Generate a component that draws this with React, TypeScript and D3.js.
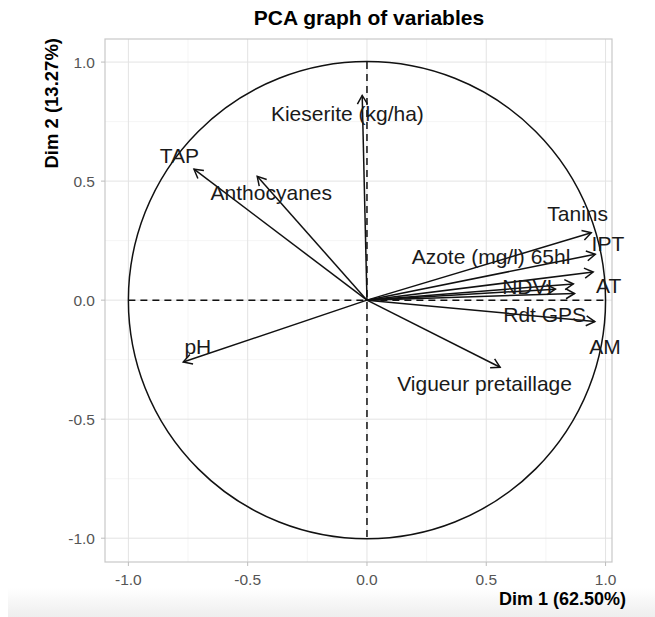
import React from 'react'
import * as d3 from 'd3'

// variable coordinates on Dim 1 / Dim 2
const varNames = ['Kieserite (kg/ha)', 'TAP', 'Anthocyanes', 'Tanins', 'IPT', 'AT', 'Azote (mg/l) 65hl', 'NDVI', 'Rdt GPS', 'AM', 'pH', 'Vigueur pretaillage']
const dim1 = [-0.02, -0.725, -0.46, 0.94, 0.957, 0.948, 0.865, 0.79, 0.87, 0.955, -0.77, 0.558]
const dim2 = [0.86, 0.55, 0.52, 0.283, 0.193, 0.118, 0.068, 0.046, 0.028, -0.09, -0.26, -0.282]

// where each label sits (data units, text centre)
const labelX = [-0.082, -0.786, -0.401, 0.883, 1.01, 1.013, 0.52, 0.672, 0.745, 0.998, -0.709, 0.493]
const labelY = [0.785, 0.605, 0.451, 0.364, 0.238, 0.059, 0.182, 0.056, -0.063, -0.197, -0.197, -0.35]

const ticks = [-1, -0.5, 0, 0.5, 1]
const minorTicks = [-0.75, -0.25, 0.25, 0.75]

const W = 655, H = 617
const FONT = '"Liberation Sans", Arial, Helvetica, sans-serif'

export default function App(){
  const x = d3.scaleLinear().domain([-1.098, 1.027]).range([105, 612])
  const y = d3.scaleLinear().domain([-1.1, 1.097]).range([562, 39])
  const [x0, x1] = x.range(), [y0, y1] = y.range()
  const fmt = (v: number) => d3.format('.1f')(v).replace('\u2212', '-')
  const r = x(1) - x(0)

  const arrowHead = (tx: number, ty: number) => {
    const px = x(tx), py = y(ty), ox = x(0), oy = y(0)
    const ang = Math.atan2(py - oy, px - ox)
    const len = 10, a = Math.PI / 6
    const p1 = [px - len * Math.cos(ang - a), py - len * Math.sin(ang - a)]
    const p2 = [px - len * Math.cos(ang + a), py - len * Math.sin(ang + a)]
    return `M${p1[0]},${p1[1]}L${px},${py}L${p2[0]},${p2[1]}`
  }

  return (
    <svg width={W} height={H} style={{position:'fixed', left:0, top:0, background:'#fff'}} fontFamily={FONT}>
      <defs>
        <linearGradient id="fade" x1="0" y1="0" x2="0" y2="1">
          <stop offset="0" stopColor="#ffffff" />
          <stop offset="1" stopColor="#eeeeee" />
        </linearGradient>
      </defs>
      <rect x={8} y={588} width={W - 8} height={H - 588} fill="url(#fade)" />

      {/* grid */}
      {minorTicks.map(t => <line key={'mx'+t} x1={x(t)} x2={x(t)} y1={y1} y2={y0} stroke="#efefef" strokeWidth={0.6} />)}
      {minorTicks.map(t => <line key={'my'+t} x1={x0} x2={x1} y1={y(t)} y2={y(t)} stroke="#efefef" strokeWidth={0.6} />)}
      {ticks.map(t => <line key={'gx'+t} x1={x(t)} x2={x(t)} y1={y1} y2={y0} stroke="#e3e3e3" strokeWidth={1} />)}
      {ticks.map(t => <line key={'gy'+t} x1={x0} x2={x1} y1={y(t)} y2={y(t)} stroke="#e3e3e3" strokeWidth={1} />)}
      <rect x={x0} y={y1} width={x1 - x0} height={y0 - y1} fill="none" stroke="#c8c8c8" strokeWidth={1.2} />

      {/* ticks and tick labels */}
      {ticks.map(t => (
        <g key={'tx'+t}>
          <line x1={x(t)} x2={x(t)} y1={y0} y2={y0 + 4} stroke="#bdbdbd" />
          <text x={x(t)} y={y0 + 23} textAnchor="middle" fontSize={15.5} fill="#555">{fmt(t)}</text>
        </g>
      ))}
      {ticks.map(t => (
        <g key={'ty'+t}>
          <line x1={x0 - 4} x2={x0} y1={y(t)} y2={y(t)} stroke="#bdbdbd" />
          <text x={x0 - 10} y={y(t)} dy="0.35em" textAnchor="end" fontSize={15.5} fill="#555">{fmt(t)}</text>
        </g>
      ))}

      {/* unit circle and axes */}
      <circle cx={x(0)} cy={y(0)} r={r} fill="none" stroke="#111" strokeWidth={1.5} />
      <line x1={x(-1)} x2={x(1)} y1={y(0)} y2={y(0)} stroke="#111" strokeWidth={1.5} strokeDasharray="7,5" />
      <line x1={x(0)} x2={x(0)} y1={y(1)} y2={y(-1)} stroke="#111" strokeWidth={1.5} strokeDasharray="7,5" />

      {/* arrows */}
      {varNames.map((n, i) => (
        <g key={n} stroke="#111" strokeWidth={1.5} fill="none">
          <line x1={x(0)} y1={y(0)} x2={x(dim1[i])} y2={y(dim2[i])} />
          <path d={arrowHead(dim1[i], dim2[i])} />
        </g>
      ))}

      {/* labels */}
      {varNames.map((n, i) => (
        <text key={'l'+n} x={x(labelX[i])} y={y(labelY[i])} dy="0.35em" textAnchor="middle" fontSize={21} fill="#1a1a1a">{n}</text>
      ))}

      {/* titles */}
      <text x={369} y={25} textAnchor="middle" fontSize={21} fontWeight="bold" fill="#000">PCA graph of variables</text>
      <text x={x1 + 14} y={605} textAnchor="end" fontSize={18} fontWeight="bold" fill="#000">Dim 1 (62.50%)</text>
      <text transform={`translate(58,${y1 - 1}) rotate(-90)`} textAnchor="end" fontSize={18.5} fontWeight="bold" fill="#000">Dim 2 (13.27%)</text>
    </svg>
  )
}
